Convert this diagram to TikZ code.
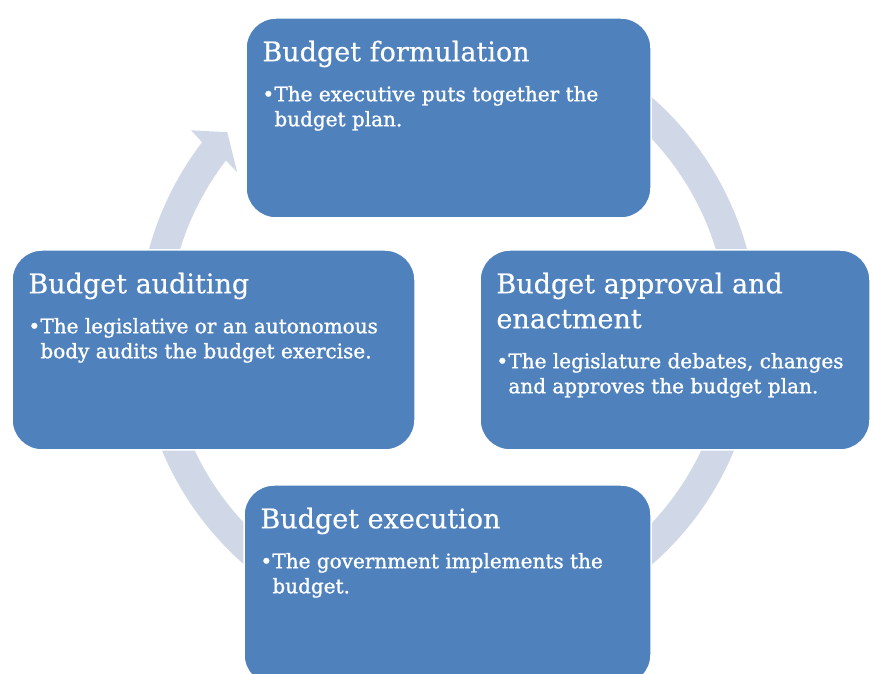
\documentclass[tikz,border=0pt]{standalone}
\usepackage{fontspec}
\setmainfont{DejaVu Serif}
\newfontfamily\stagetitlefont{DejaVu Serif}[FakeBold=0.5]
\newfontfamily\stagebodyfont{DejaVu Serif}[FakeBold=1.2]
\usepackage{tikz}
\usetikzlibrary{positioning}
\definecolor{stageblue}{RGB}{79,129,189}
\definecolor{ringgray}{RGB}{208,216,232}
\newcommand{\stage}[2]{\parbox[t]{380pt}{\raggedright\parindent=0pt
  \stagetitlefont\fontsize{27}{35}\selectfont #1\par\vspace{15pt}
  \stagebodyfont\fontsize{20}{25}\selectfont\hangindent=12pt\hangafter=1
  \makebox[12pt][l]{\textbullet}#2\par}}
\tikzset{
  stagebox/.style={draw=white, line width=1.5pt, fill=stageblue,
    rounded corners=30pt, minimum height=200pt, inner sep=0pt},
  stagetext/.style={text=white, inner sep=0pt, anchor=base west},
}

\begin{document}
\begin{tikzpicture}[x=1pt, y=1pt]
  \useasboundingbox (0,0) rectangle (873,674);
  \clip (0,0) rectangle (873,674);

  % cycle arrow behind the boxes
  \begin{scope}[shift={(448,343)}]
    \fill[ringgray] (70:310) arc[start angle=70, end angle=-217.5, radius=310]
      -- (-218:326) -- (-222:297) -- (-217:264) -- (-217.5:280)
      arc[start angle=-217.5, end angle=70, radius=280] -- cycle;
  \end{scope}

  \node[stagebox, minimum width=405pt] (formulation) at (448.5,556) {};
  \node[stagebox, minimum width=390pt] (approval) at (675,324) {};
  \node[stagebox, minimum width=407pt] (execution) at (447.5,89) {};
  \node[stagebox, minimum width=403pt] (auditing) at (213.5,324) {};

  \node[stagetext] (formulation-text) at ([shift={(17,-44)}]formulation.north west)
    {\stage{Budget formulation}{The executive puts together the\newline budget plan.}};
  \node[stagetext] (approval-text) at ([shift={(17,-44)}]approval.north west)
    {\stage{Budget approval and\newline enactment}{The legislature debates, changes\newline and approves the budget plan.}};
  \node[stagetext] (execution-text) at ([shift={(17,-44)}]execution.north west)
    {\stage{Budget execution}{The government implements the\newline budget.}};
  \node[stagetext] (auditing-text) at ([shift={(17,-44)}]auditing.north west)
    {\stage{Budget auditing}{The legislative or an autonomous\newline body audits the budget exercise.}};
\end{tikzpicture}
\end{document}
